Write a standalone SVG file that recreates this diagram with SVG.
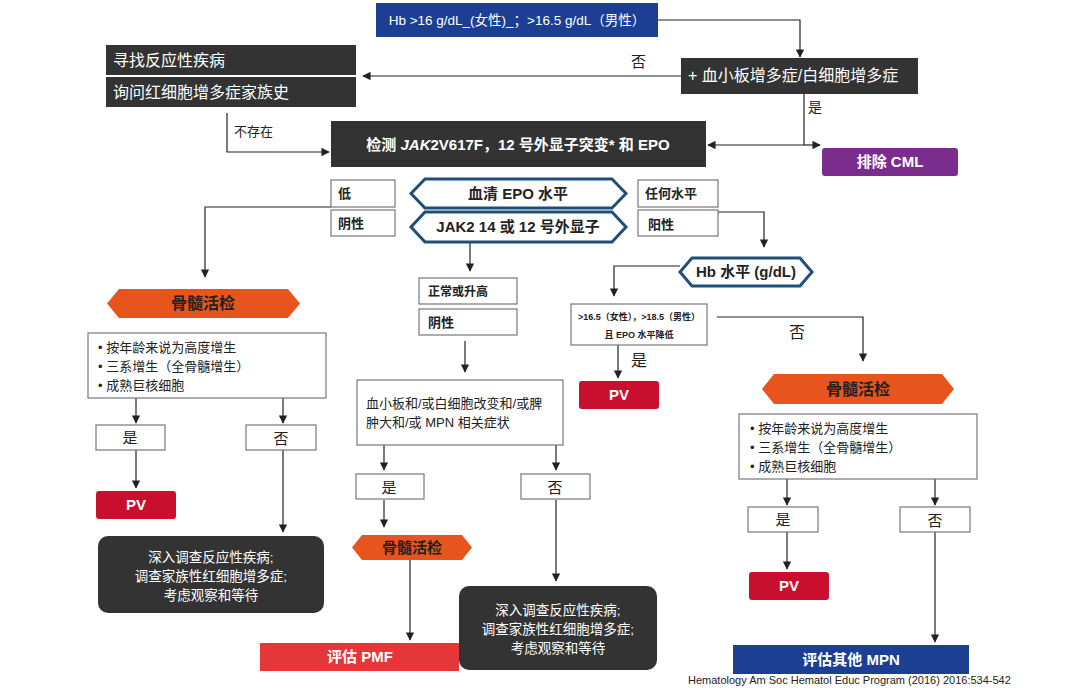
<svg xmlns="http://www.w3.org/2000/svg" width="1080" height="688" viewBox="0 0 1080 688">
<defs>
<marker id="ah" viewBox="0 0 10 10" refX="9" refY="5" markerWidth="7" markerHeight="7" orient="auto-start-reverse"><path d="M0,0 L10,5 L0,10 z" fill="#222"/></marker>
<style>
text{font-family:"Liberation Sans","Noto Sans CJK SC",sans-serif;}
.dk{fill:#333;}
.wt{fill:#fff;font-size:15px;}
.wb{fill:#fff;font-size:15px;font-weight:bold;}
.bx{fill:#fff;stroke:#777;stroke-width:1.2;}
.t{fill:#222;font-size:13px;}
.tb{fill:#222;font-size:13px;font-weight:bold;}
.hx{fill:#fff;stroke:#1f4e79;stroke-width:3;}
.or{fill:#e8541e;}
.pv{fill:#c8102e;}
.ln{fill:none;stroke:#222;stroke-width:1.2;marker-end:url(#ah);}
.pl{fill:none;stroke:#222;stroke-width:1.2;}
</style>
</defs>
<rect width="1080" height="688" fill="#fff"/>
<g id="connectors">
<path class="ln" d="M658,20 H800 V57"/>
<path class="ln" d="M681,76 H363"/>
<path class="pl" d="M804,94 V145"/>
<path class="ln" d="M804,145 H708"/>
<path class="ln" d="M804,145 H820"/>
<path class="ln" d="M227,113 V152 H329"/>
<path class="ln" d="M331,207 H205 V277"/>
<path class="ln" d="M718,212 H764 V247"/>
<path class="ln" d="M680,266 H614 V296"/>
<path class="ln" d="M618,345 V378"/>
<path class="ln" d="M717,317 H863 V361"/>
<path class="ln" d="M787,479 V505"/>
<path class="ln" d="M935,479 V505"/>
<path class="ln" d="M787,532 V569"/>
<path class="ln" d="M935,532 V642"/>
<path class="ln" d="M136,398 V423"/>
<path class="ln" d="M283,398 V423"/>
<path class="ln" d="M136,450 V488"/>
<path class="ln" d="M283,450 V532"/>
<path class="ln" d="M470,243 V271"/>
<path class="ln" d="M465,341 V372"/>
<path class="ln" d="M384,445 V470"/>
<path class="ln" d="M556,445 V470"/>
<path class="ln" d="M384,500 V527"/>
<path class="ln" d="M410,560 V640"/>
<path class="ln" d="M556,500 V581"/>
<text class="t" x="631" y="67" style="font-size:15px">否</text>
<text class="t" x="808" y="112" style="font-size:14px">是</text>
<text class="t" x="234" y="136">不存在</text>
<text class="t" x="631" y="366" style="font-size:16px">是</text>
<text class="t" x="789" y="338" style="font-size:16px">否</text>
</g>
<g id="n-hb"><rect x="376" y="3" width="282" height="34" fill="#1c3f94"/><text class="wt" x="517" y="25" text-anchor="middle" style="font-size:13.5px">Hb &gt;16 g/dL_(女性)_；&gt;16.5 g/dL（男性）</text></g>
<g id="n-plt"><rect class="dk" x="681" y="58" width="237" height="36"/><text class="wt" x="688" y="81" style="font-size:16px">+ 血小板增多症/白细胞增多症</text></g>
<g id="n-find"><rect class="dk" x="106" y="45" width="250" height="30"/><text class="wt" x="113" y="66" style="font-size:16px">寻找反应性疾病</text></g>
<g id="n-ask"><rect class="dk" x="106" y="77" width="250" height="30"/><text class="wt" x="113" y="98" style="font-size:16px">询问红细胞增多症家族史</text></g>
<g id="n-test"><rect class="dk" x="331" y="121" width="375" height="46"/><text class="wb" x="518" y="150" text-anchor="middle">检测 <tspan font-style="italic">JAK</tspan>2V617F，12 号外显子突变* 和 EPO</text></g>
<g id="n-cml"><rect x="822" y="148" width="136" height="28" rx="3" fill="#7b2d8e"/><text class="wb" x="890" y="167" text-anchor="middle">排除 CML</text></g>
<g id="n-low"><rect class="bx" x="331" y="180" width="64" height="27"/><text class="tb" x="338" y="198">低</text></g>
<g id="n-neg1"><rect class="bx" x="331" y="210" width="64" height="26"/><text class="tb" x="338" y="228">阴性</text></g>
<g id="n-any"><rect class="bx" x="638" y="180" width="80" height="27"/><text class="tb" x="645" y="198">任何水平</text></g>
<g id="n-pos"><rect class="bx" x="638" y="210" width="80" height="26"/><text class="tb" x="648" y="229">阳性</text></g>
<g id="n-epo"><polygon class="hx" points="425,179 612,179 626,193.5 612,208 425,208 411,193.5"/><text class="tb" x="518" y="199" text-anchor="middle" style="font-size:15px">血清 EPO 水平</text></g>
<g id="n-jak"><polygon class="hx" points="425,212 612,212 626,227 612,242 425,242 411,227"/><text class="tb" x="518" y="232" text-anchor="middle" style="font-size:15px">JAK2 14 或 12 号外显子</text></g>
<g id="n-hblvl"><polygon class="hx" points="692,258 800,258 812,272 800,286 692,286 680,272"/><text class="tb" x="746" y="277" text-anchor="middle" style="font-size:15px">Hb 水平 (g/dL)</text></g>
<g id="n-crit"><rect class="bx" x="571" y="304" width="136" height="41"/><text class="tb" x="639" y="320" text-anchor="middle" style="font-size:9px">&gt;16.5（女性），&gt;18.5（男性）</text><text class="tb" x="639" y="338" text-anchor="middle" style="font-size:9px">且 EPO 水平降低</text></g>
<g id="n-pv3"><rect class="pv" x="579" y="381" width="80" height="28" rx="3"/><text class="wb" x="619" y="400" text-anchor="middle">PV</text></g>
<g id="n-bm3"><polygon class="or" points="774,374 942,374 954,389 942,404 774,404 762,389"/><text class="tb" x="858" y="395" text-anchor="middle" style="font-size:16px">骨髓活检</text></g>
<g id="n-list3"><rect class="bx" x="739" y="414" width="238" height="65"/><text class="t" x="750" y="433">•   按年龄来说为高度增生</text><text class="t" x="750" y="452">•   三系增生（全骨髓增生）</text><text class="t" x="750" y="471">•   成熟巨核细胞</text></g>
<g id="n-yes3"><rect class="bx" x="748" y="507" width="70" height="25"/><text class="t" x="783" y="525" text-anchor="middle" style="font-size:15px">是</text></g>
<g id="n-no3"><rect class="bx" x="900" y="507" width="70" height="25"/><text class="t" x="935" y="526" text-anchor="middle" style="font-size:15px">否</text></g>
<g id="n-pv4"><rect class="pv" x="749" y="572" width="80" height="28" rx="3"/><text class="wb" x="789" y="591" text-anchor="middle">PV</text></g>
<g id="n-mpn"><rect x="733" y="645" width="236" height="29" fill="#1c3f94"/><text class="wb" x="851" y="665" text-anchor="middle">评估其他 MPN</text></g>
<g id="n-bm1"><polygon class="or" points="119,289 288,289 300,303.5 288,318 119,318 107,303.5"/><text class="tb" x="203" y="309" text-anchor="middle" style="font-size:16px">骨髓活检</text></g>
<g id="n-list1"><rect class="bx" x="88" y="333" width="238" height="65"/><text class="t" x="98" y="352">•   按年龄来说为高度增生</text><text class="t" x="98" y="371">•   三系增生（全骨髓增生）</text><text class="t" x="98" y="390">•   成熟巨核细胞</text></g>
<g id="n-yes1"><rect class="bx" x="96" y="425" width="69" height="25"/><text class="t" x="130" y="443" text-anchor="middle" style="font-size:15px">是</text></g>
<g id="n-no1"><rect class="bx" x="246" y="425" width="70" height="25"/><text class="t" x="281" y="444" text-anchor="middle" style="font-size:15px">否</text></g>
<g id="n-pv1"><rect class="pv" x="96" y="491" width="80" height="28" rx="3"/><text class="wb" x="136" y="510" text-anchor="middle">PV</text></g>
<g id="n-inv1"><rect class="dk" x="98" y="536" width="226" height="77" rx="10"/><text class="wt" x="211" y="562" text-anchor="middle" style="font-size:13.5px">深入调查反应性疾病;</text><text class="wt" x="211" y="581" text-anchor="middle" style="font-size:13.5px">调查家族性红细胞增多症;</text><text class="wt" x="211" y="600" text-anchor="middle" style="font-size:13.5px">考虑观察和等待</text></g>
<g id="n-norm"><rect class="bx" x="419" y="278" width="98" height="26"/><text class="tb" x="428" y="296" style="font-size:12px">正常或升高</text></g>
<g id="n-neg2"><rect class="bx" x="419" y="309" width="98" height="26"/><text class="tb" x="428" y="327">阴性</text></g>
<g id="n-plt2"><rect class="bx" x="357" y="380" width="206" height="65"/><text class="t" x="366" y="408">血小板和/或白细胞改变和/或脾</text><text class="t" x="366" y="427">肿大和/或 MPN 相关症状</text></g>
<g id="n-yes2"><rect class="bx" x="356" y="474" width="68" height="25"/><text class="t" x="389" y="493" text-anchor="middle" style="font-size:15px">是</text></g>
<g id="n-no2"><rect class="bx" x="521" y="474" width="69" height="25"/><text class="t" x="555" y="493" text-anchor="middle" style="font-size:15px">否</text></g>
<g id="n-bm2"><polygon class="or" points="362,535 462,535 472,547.5 462,560 362,560 352,547.5"/><text class="tb" x="412" y="553" text-anchor="middle" style="font-size:15px">骨髓活检</text></g>
<g id="n-pmf"><rect x="260" y="643" width="199" height="28" fill="#e5363a"/><text class="wb" x="360" y="662" text-anchor="middle">评估 PMF</text></g>
<g id="n-inv2"><rect class="dk" x="459" y="586" width="198" height="84" rx="10"/><text class="wt" x="558" y="615" text-anchor="middle" style="font-size:13.5px">深入调查反应性疾病;</text><text class="wt" x="558" y="634" text-anchor="middle" style="font-size:13.5px">调查家族性红细胞增多症;</text><text class="wt" x="558" y="653" text-anchor="middle" style="font-size:13.5px">考虑观察和等待</text></g>
<text x="688" y="684" style="font-size:11px" fill="#222">Hematology Am Soc Hematol Educ Program (2016) 2016:534-542</text>
</svg>
